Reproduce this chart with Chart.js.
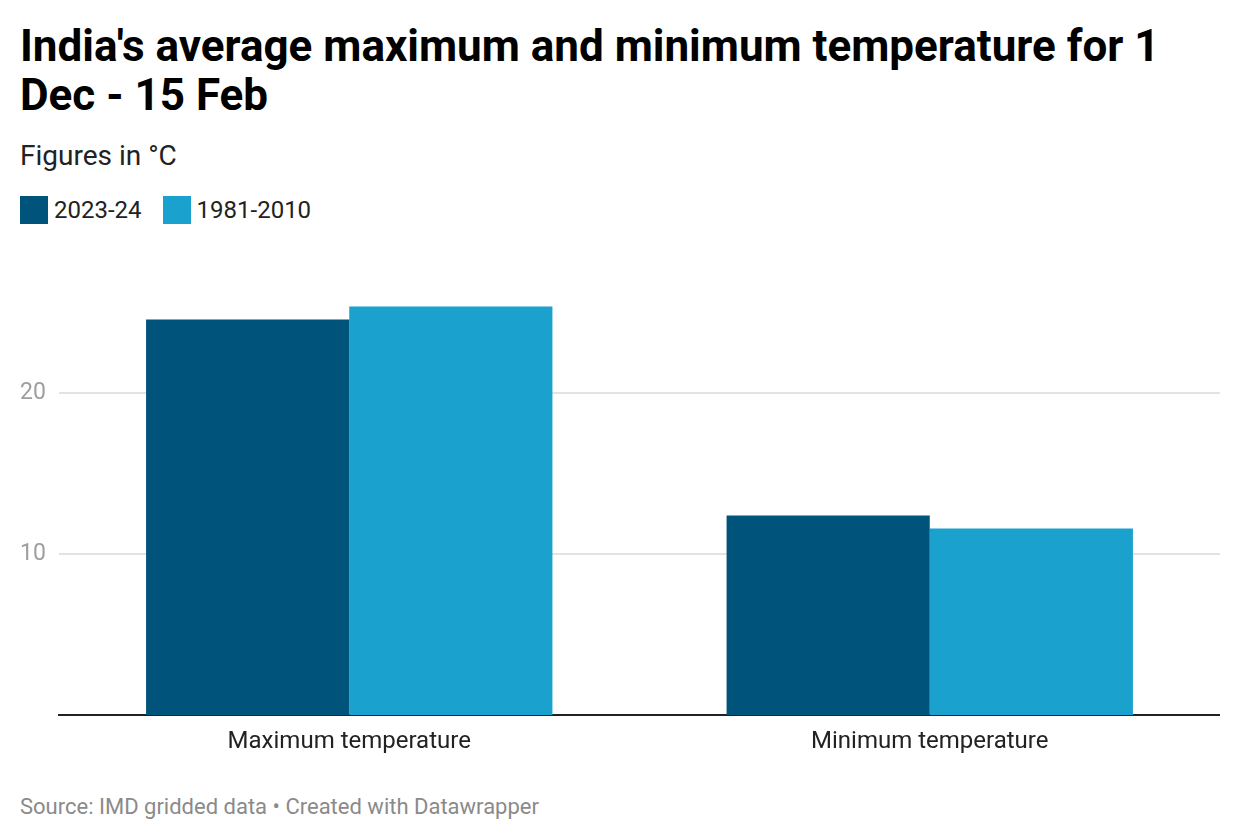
<!DOCTYPE html>
<html>
<head>
<meta charset="utf-8">
<script src="https://cdn.jsdelivr.net/npm/chart.js@4.4.1/dist/chart.umd.min.js"></script>
<style>
  html, body { margin: 0; padding: 0; background: #fff; }
  body { width: 1240px; height: 840px; position: relative; overflow: hidden; font-family: Roboto, "Noto Sans", sans-serif; }
  #title { position: absolute; left: 20px; top: 22px; width: 1210px; font-size: 44px; font-weight: 700; line-height: 49px; color: #000; margin: 0; }
  #subtitle { position: absolute; left: 20px; top: 139px; font-size: 28px; color: #222; }
  #legend { position: absolute; left: 20px; top: 196px; display: flex; font-size: 24px; color: #222; }
  .item { display: flex; align-items: center; margin-right: 21px; }
  .sw { width: 28px; height: 28px; margin-right: 6px; }
  #wrap { position: absolute; left: 20px; top: 255px; width: 1200px; height: 505px; }
  #source { position: absolute; left: 20px; top: 794px; font-size: 22px; color: #8a8a8a; }
</style>
</head>
<body>
<div id="title">India's average maximum and minimum temperature for 1<br>Dec - 15 Feb</div>
<div id="subtitle">Figures in °C</div>
<div id="legend"></div>
<div id="wrap"><canvas id="c"></canvas></div>
<div id="source">Source: IMD gridded data • Created with Datawrapper</div>
<script>
const categories = ["Maximum temperature", "Minimum temperature"];
const seriesNames = ["2023-24", "1981-2010"];
const values2023 = [24.6, 12.4];
const values1981 = [25.4, 11.6];
const yTicks = [10, 20];
const colors = ["#00537b", "#1aa1cd"];

const legend = document.getElementById('legend');
seriesNames.forEach((n, i) => {
  const it = document.createElement('div'); it.className = 'item';
  const sw = document.createElement('div'); sw.className = 'sw'; sw.style.background = colors[i];
  const t = document.createElement('span'); t.textContent = n;
  it.appendChild(sw); it.appendChild(t); legend.appendChild(it);
});

new Chart(document.getElementById('c'), {
  type: 'bar',
  data: {
    labels: categories,
    datasets: [
      { label: seriesNames[0], data: values2023, backgroundColor: colors[0] },
      { label: seriesNames[1], data: values1981, backgroundColor: colors[1] }
    ]
  },
  options: {
    responsive: true,
    maintainAspectRatio: false,
    animation: false,
    layout: { padding: { top: 10, right: 0, bottom: 0, left: 0 } },
    plugins: { legend: { display: false }, tooltip: { enabled: false } },
    datasets: { bar: { categoryPercentage: 0.7, barPercentage: 1.0 } },
    scales: {
      x: {
        grid: { display: false, drawTicks: false },
        border: { display: true, color: '#222', width: 2 },
        ticks: { color: '#222', font: { family: 'Roboto', size: 24 }, padding: 13 },
        afterFit: s => { s.height = 45; }
      },
      y: {
        min: 0, max: 27,
        afterBuildTicks: s => { s.ticks = yTicks.map(v => ({ value: v })); },
        grid: { color: '#e3e3e3', lineWidth: 2, drawTicks: false },
        border: { display: false },
        ticks: { color: '#9e9e9e', font: { family: 'Roboto', size: 23 }, crossAlign: 'far', padding: 12 },
        afterFit: s => { s.width = 39; }
      }
    }
  }
});
</script>
</body>
</html>
